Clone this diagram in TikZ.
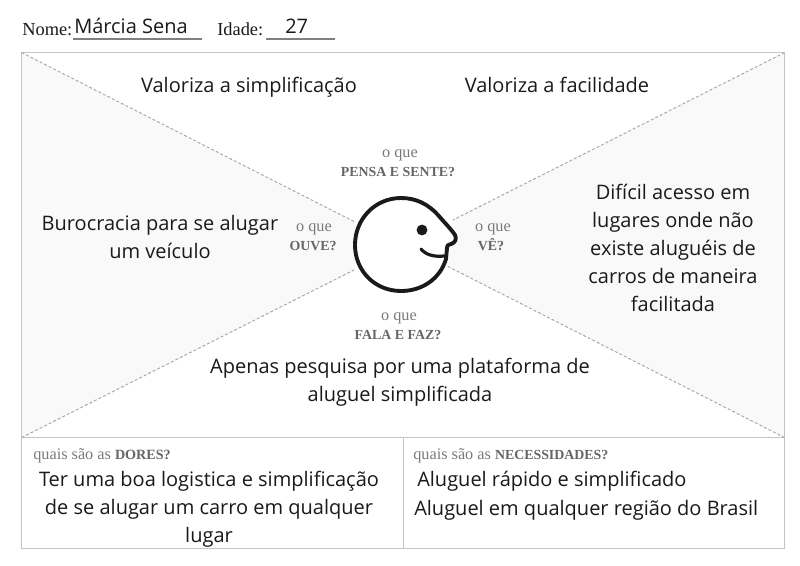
\documentclass[tikz,border=0pt]{standalone}
\usepackage{fontspec}
\setmainfont{Open Sans}
\newfontfamily\lblfont{Liberation Serif}
\definecolor{frame}{HTML}{C4C4C4}
\definecolor{dashc}{HTML}{A6A6A6}
\definecolor{lbl}{HTML}{7A7A7A}
\definecolor{lbld}{HTML}{666666}
\definecolor{tri}{HTML}{F9F9F9}
\definecolor{ink}{HTML}{1A1A1A}
\tikzset{
  x=0.75pt,y=-0.75pt,
  body/.style={inner sep=0pt,anchor=base,font=\fontsize{15}{17}\selectfont,text=ink},
  bodyl/.style={body,anchor=base west},
  ask/.style={inner sep=0pt,anchor=base,font=\lblfont\fontsize{12.2}{14}\selectfont,text=lbl},
  askb/.style={inner sep=0pt,anchor=base,font=\lblfont\bfseries\fontsize{10.4}{13}\selectfont,text=lbld},
  askl/.style={inner sep=0pt,anchor=base west,font=\lblfont\fontsize{12.2}{14}\selectfont,text=lbl},
  hdr/.style={inner sep=0pt,anchor=base west,font=\lblfont\fontsize{13.8}{16}\selectfont,text=ink},
  framebox/.style={draw=frame,line width=0.7pt},
  dashline/.style={draw=dashc,line width=0.7pt,dash pattern=on 2.2pt off 1.6pt},
  ruleline/.style={draw=gray,line width=0.9pt},
  headline/.style={draw=ink,line width=2.9pt,line cap=round,line join=round}
}
\begin{document}
\begin{tikzpicture}
\useasboundingbox (0,0) rectangle (800,565);
\fill[white] (0,0) rectangle (800,565);
% shaded wedges
\fill[tri] (21.6,52.6) -- (355,222) -- (355,270) -- (21.6,437.6) -- cycle;
\fill[tri] (784.6,52.6) -- (453,220) -- (447,266) -- (784.6,437.6) -- cycle;
% frame
\draw[framebox] (21.6,52.6) rectangle (784.6,548.6);
\draw[framebox] (21.6,437.6) -- (784.6,437.6);
\draw[framebox] (403.5,437.6) -- (403.5,548.6);
% dashed diagonals
\coordinate (tl) at (21.6,52.6); \coordinate (tr) at (784.6,52.6);
\coordinate (bl) at (21.6,437.6); \coordinate (br) at (784.6,437.6);
\coordinate (htl) at (355,222); \coordinate (htr) at (453,220);
\coordinate (hbl) at (354,270); \coordinate (hbr) at (447,266);
\draw[dashline] (tl) -- (htl);
\draw[dashline] (tr) -- (htr);
\draw[dashline] (bl) -- (hbl);
\draw[dashline] (br) -- (hbr);
% head
\filldraw[fill=white,headline] (446,259)
  .. controls (440,279) and (422,291) .. (401,291)
  .. controls (375,291) and (355,271) .. (355,245)
  .. controls (355,219) and (375,198) .. (401,198)
  .. controls (416,198) and (428,204) .. (438,215)
  .. controls (444,222) and (451,229) .. (455,235)
  .. controls (457,239) and (455,243) .. (451,244)
  .. controls (448,245) and (446,246) .. (447,248)
  -- cycle;
\draw[headline,line width=2.4pt] (421,249) .. controls (426,255) and (434,257) .. (444,256);
\fill[ink] (422,230) circle (5.4);
% header
\node[hdr] (nome) at (22,35) {Nome:};
\node[bodyl] (nomev) at (74,33) {Márcia Sena};
\coordinate (n1) at (73,39); \coordinate (n2) at (202,39);
\draw[ruleline] (n1) -- (n2);
\node[hdr] (idade) at (217,35) {Idade:};
\node[bodyl] (idadev) at (285,33) {27};
\coordinate (i1) at (266,39); \coordinate (i2) at (335,39);
\draw[ruleline] (i1) -- (i2);
% quadrant prompts
\node[ask] (q1a) at (400,157) {o que};
\node[askb] (q1b) at (398,176) {PENSA E SENTE?};
\node[ask] (q2a) at (314,231) {o que};
\node[askb] (q2b) at (313,250) {OUVE?};
\node[ask] (q3a) at (493,231) {o que};
\node[askb] (q3b) at (491,250) {VÊ?};
\node[ask] (q4a) at (399,320) {o que};
\node[askb] (q4b) at (398,339) {FALA E FAZ?};
% quadrant texts
\node[body] (t1) at (249,92) {Valoriza a simplificação};
\node[body] (t2) at (557,92) {Valoriza a facilidade};
\node[body] (t3a) at (160,230) {Burocracia para se alugar};
\node[body] (t3b) at (160,258) {um veículo};
\node[body] (t4a) at (673,199) {Difícil acesso em};
\node[body] (t4b) at (673,227) {lugares onde não};
\node[body] (t4c) at (673,255) {existe aluguéis de};
\node[body] (t4d) at (673,283) {carros de maneira};
\node[body] (t4e) at (673,311) {facilitada};
\node[body] (t5a) at (400,373) {Apenas pesquisa por uma plataforma de};
\node[body] (t5b) at (400,401) {aluguel simplificada};
% bottom
\node[askl] (d0) at (33,459) {quais são as \textcolor{lbld}{\bfseries\fontsize{10.6}{13}\selectfont DORES?}};
\node[askl] (n0) at (413,459) {quais são as \textcolor{lbld}{\bfseries\fontsize{10.4}{13}\selectfont NECESSIDADES?}};
\node[body] (d1) at (209,486) {Ter uma boa logistica e simplificação};
\node[body] (d2) at (209,514) {de se alugar um carro em qualquer};
\node[body] (d3) at (209,542) {lugar};
\node[bodyl] (n1t) at (417,486) {Aluguel rápido e simplificado};
\node[bodyl] (n2t) at (414,515) {Aluguel em qualquer região do Brasil};
\end{tikzpicture}
\end{document}
